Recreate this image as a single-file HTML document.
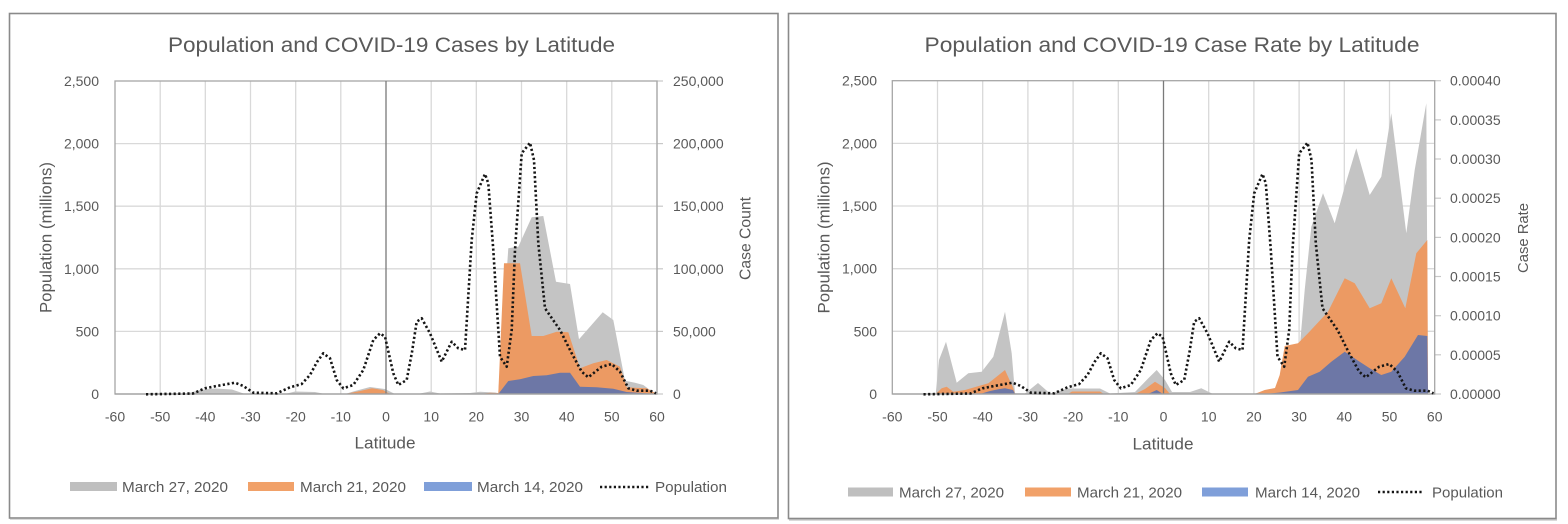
<!DOCTYPE html>
<html>
<head>
<meta charset="utf-8">
<style>
html,body{margin:0;padding:0;background:#fff;}
svg{display:block;}
text{font-family:"Liberation Sans",sans-serif;fill:#595959;}
</style>
</head>
<body>
<svg width="1568" height="524" viewBox="0 0 1568 524" xmlns="http://www.w3.org/2000/svg">
<rect width="1568" height="524" fill="#fff"/>

<!-- ============ LEFT CHART ============ -->
<rect x="9.5" y="13.5" width="768.5" height="504.5" fill="#fff" stroke="#8a8a8a" stroke-width="1.6"/>
<line x1="10" y1="519" x2="779" y2="519" stroke="#b5b5b5" stroke-width="1"/>

<text x="391.5" y="52" font-size="21" text-anchor="middle" textLength="447" lengthAdjust="spacingAndGlyphs">Population and COVID-19 Cases by Latitude</text>

<!-- gridlines -->
<g stroke="#d9d9d9" stroke-width="1.3">
  <line x1="115" y1="143.6" x2="657" y2="143.6"/>
  <line x1="115" y1="206.2" x2="657" y2="206.2"/>
  <line x1="115" y1="268.8" x2="657" y2="268.8"/>
  <line x1="115" y1="331.4" x2="657" y2="331.4"/>
  <line x1="160.2" y1="81" x2="160.2" y2="394"/>
  <line x1="205.3" y1="81" x2="205.3" y2="394"/>
  <line x1="250.5" y1="81" x2="250.5" y2="394"/>
  <line x1="295.7" y1="81" x2="295.7" y2="394"/>
  <line x1="340.8" y1="81" x2="340.8" y2="394"/>
  <line x1="431.2" y1="81" x2="431.2" y2="394"/>
  <line x1="476.3" y1="81" x2="476.3" y2="394"/>
  <line x1="521.5" y1="81" x2="521.5" y2="394"/>
  <line x1="566.7" y1="81" x2="566.7" y2="394"/>
  <line x1="611.8" y1="81" x2="611.8" y2="394"/>
  <line x1="657" y1="81" x2="657" y2="394"/>
</g>
<!-- right axis ticks -->
<g stroke="#c8c8c8" stroke-width="1.2">
  <line x1="657" y1="81" x2="663" y2="81"/>
  <line x1="657" y1="143.6" x2="663" y2="143.6"/>
  <line x1="657" y1="206.2" x2="663" y2="206.2"/>
  <line x1="657" y1="268.8" x2="663" y2="268.8"/>
  <line x1="657" y1="331.4" x2="663" y2="331.4"/>
  <line x1="657" y1="394" x2="663" y2="394"/>
</g>

<!-- areas -->
<polygon fill="#c4c4c4" points="115,394 185,394 200,390 215,388.5 232,389.5 245,394 285,394 295,391.5 315,392 325,394 345,394 355,391 370,387 385,389 395,394 420,393.5 430,391.5 440,393.5 470,393 480,391.8 495,392.5 498.3,393.3 508.3,248.3 518.3,246.7 531.7,217.3 543.3,216 556,281.7 570,284 579,339.3 602.7,312.3 613.3,320 625,380.7 635,382.7 643.3,385 650,390 656.7,394"/>
<polygon fill="#ec9a63" points="345,394 360,391 372,388.3 383,390 390,394 480,394 490,392.8 498.3,393 504,263.3 520,263.3 531.7,336 543.3,336 556.7,331.7 568.3,332.3 580,368.3 593.3,363.3 606.7,360 620,366.7 626.7,387.3 646.7,388.3 656.7,394"/>
<polygon fill="#6d77a6" points="498.3,394 508.3,381 520,379.3 533.3,376 546.7,375.3 560,372.7 570,372.7 580,386.7 596.7,387.3 613.3,388.7 626.7,392 656.7,394"/>

<!-- plot border & axes -->
<rect x="115" y="81" width="542" height="313" fill="none" stroke="#a6a6a6" stroke-width="1.3"/>
<line x1="386" y1="81" x2="386" y2="394" stroke="#7a7a7a" stroke-width="1.3"/>
<line x1="115" y1="394" x2="657" y2="394" stroke="#a0a0a0" stroke-width="1.3"/>

<!-- population line -->
<polyline fill="none" stroke="#151515" stroke-width="2.6" stroke-dasharray="2.2 2.4" stroke-linejoin="round" points="146,394.3 193,393.5 205,388.3 216.7,386 235,382.7 243.3,386 253.3,392.7 276.7,393.3 290,387.3 301.7,384 310,375 317,362 323.3,353.3 330,358.3 336.7,380 343.3,388.3 353.3,385 363.3,370 373.3,340 380,333.3 385,336.7 393.3,373.3 398.3,385 406.7,380 412,352 416.7,321.7 421.7,318.3 430,333.3 441.7,361.7 451.7,341.7 458.3,348.3 465,350 471.7,240 476.7,193.3 485,174 488.3,183.3 493.3,250 500,356.7 506.7,366.7 511.7,330 515,250 521.7,153.3 530,142.7 534,160 538.3,243.3 545,308.3 560,330 571.7,353.3 581.7,371.7 588.3,377.3 601.7,366.7 611.7,364 620,371.7 628.3,388.3 636.7,390.7 650,390.7 656,393.3"/>

<!-- left axis labels -->
<g font-size="14" text-anchor="end">
  <text x="99" y="86">2,500</text>
  <text x="99" y="148.6">2,000</text>
  <text x="99" y="211.2">1,500</text>
  <text x="99" y="273.8">1,000</text>
  <text x="99" y="336.4">500</text>
  <text x="99" y="399">0</text>
</g>
<g font-size="14" text-anchor="start">
  <text x="673" y="86">250,000</text>
  <text x="673" y="148.6">200,000</text>
  <text x="673" y="211.2">150,000</text>
  <text x="673" y="273.8">100,000</text>
  <text x="673" y="336.4">50,000</text>
  <text x="673" y="399">0</text>
</g>
<g font-size="14" text-anchor="middle">
  <text x="115" y="421.7">-60</text>
  <text x="160.2" y="421.7">-50</text>
  <text x="205.3" y="421.7">-40</text>
  <text x="250.5" y="421.7">-30</text>
  <text x="295.7" y="421.7">-20</text>
  <text x="340.8" y="421.7">-10</text>
  <text x="386" y="421.7">0</text>
  <text x="431.2" y="421.7">10</text>
  <text x="476.3" y="421.7">20</text>
  <text x="521.5" y="421.7">30</text>
  <text x="566.7" y="421.7">40</text>
  <text x="611.8" y="421.7">50</text>
  <text x="657" y="421.7">60</text>
</g>
<text x="385" y="448.5" font-size="16.5" text-anchor="middle" textLength="61" lengthAdjust="spacingAndGlyphs">Latitude</text>
<text transform="translate(51.5,237.5) rotate(-90)" font-size="16.5" text-anchor="middle" textLength="151" lengthAdjust="spacingAndGlyphs">Population (millions)</text>
<text transform="translate(750.5,238.5) rotate(-90)" font-size="15.5" text-anchor="middle" textLength="83" lengthAdjust="spacingAndGlyphs">Case Count</text>

<!-- left legend -->
<rect x="70" y="482" width="47" height="9" fill="#bfbfbf"/>
<text x="122" y="492" font-size="15" textLength="106" lengthAdjust="spacingAndGlyphs">March 27, 2020</text>
<rect x="248" y="482" width="46" height="9" fill="#f1a169"/>
<text x="300" y="492" font-size="15" textLength="106" lengthAdjust="spacingAndGlyphs">March 21, 2020</text>
<rect x="424" y="482" width="48" height="9" fill="#7f9fd9"/>
<text x="477" y="492" font-size="15" textLength="106" lengthAdjust="spacingAndGlyphs">March 14, 2020</text>
<line x1="600" y1="487" x2="649" y2="487" stroke="#151515" stroke-width="2.4" stroke-dasharray="2.2 2.4"/>
<text x="655" y="492" font-size="15" textLength="72" lengthAdjust="spacingAndGlyphs">Population</text>

<!-- ============ RIGHT CHART ============ -->
<rect x="788.5" y="13.5" width="767.5" height="505" fill="#fff" stroke="#8a8a8a" stroke-width="1.6"/>
<line x1="789" y1="520" x2="1557" y2="520" stroke="#b5b5b5" stroke-width="1"/>

<text x="1172" y="52" font-size="21" text-anchor="middle" textLength="495" lengthAdjust="spacingAndGlyphs">Population and COVID-19 Case Rate by Latitude</text>

<g stroke="#d9d9d9" stroke-width="1.3">
  <line x1="892.3" y1="143.4" x2="1434.7" y2="143.4"/>
  <line x1="892.3" y1="206" x2="1434.7" y2="206"/>
  <line x1="892.3" y1="268.7" x2="1434.7" y2="268.7"/>
  <line x1="892.3" y1="331.3" x2="1434.7" y2="331.3"/>
  <line x1="937.5" y1="80.7" x2="937.5" y2="394"/>
  <line x1="982.7" y1="80.7" x2="982.7" y2="394"/>
  <line x1="1027.9" y1="80.7" x2="1027.9" y2="394"/>
  <line x1="1073.1" y1="80.7" x2="1073.1" y2="394"/>
  <line x1="1118.3" y1="80.7" x2="1118.3" y2="394"/>
  <line x1="1208.7" y1="80.7" x2="1208.7" y2="394"/>
  <line x1="1253.9" y1="80.7" x2="1253.9" y2="394"/>
  <line x1="1299.1" y1="80.7" x2="1299.1" y2="394"/>
  <line x1="1344.3" y1="80.7" x2="1344.3" y2="394"/>
  <line x1="1389.5" y1="80.7" x2="1389.5" y2="394"/>
</g>
<g stroke="#c8c8c8" stroke-width="1.2">
  <line x1="1434.7" y1="80.7" x2="1441" y2="80.7"/>
  <line x1="1434.7" y1="119.9" x2="1441" y2="119.9"/>
  <line x1="1434.7" y1="159" x2="1441" y2="159"/>
  <line x1="1434.7" y1="198.2" x2="1441" y2="198.2"/>
  <line x1="1434.7" y1="237.4" x2="1441" y2="237.4"/>
  <line x1="1434.7" y1="276.5" x2="1441" y2="276.5"/>
  <line x1="1434.7" y1="315.7" x2="1441" y2="315.7"/>
  <line x1="1434.7" y1="354.8" x2="1441" y2="354.8"/>
  <line x1="1434.7" y1="394" x2="1441" y2="394"/>
</g>

<polygon fill="#c4c4c4" points="892.3,394 935.7,394 939,360 946,341.7 956.7,382.7 968.3,373.3 981.7,371.7 993.3,356.7 1005,311.7 1011.7,353.3 1015,393.3 1025,393.5 1038,383 1050,393.5 1068,388.5 1100,388.5 1110,393.5 1135,392 1148.3,378.3 1156.7,370 1165,380 1172,392 1190,392 1201.3,388.3 1212,393.5 1255,393.5 1270,390 1278,388.3 1290,350 1296.3,346 1299.7,348.3 1304.7,290 1311.3,226.7 1323,193.3 1334.7,223.3 1344.7,186.7 1356.3,148.3 1369.7,195 1381.3,176.7 1391.3,113.3 1406.3,233.3 1414.7,170 1426.3,103.3 1428,394"/>
<polygon fill="#ec9a63" points="935.7,394 941.7,388.3 946.7,386.7 953.3,391.7 965,390 988.3,383.3 1005,370 1013.3,388.3 1015,394 1068,394 1072,391.5 1100,391.5 1104,394 1135,394 1145,389 1155,381.7 1165,388 1170,394 1254.7,394 1264.7,390 1275,388 1279.7,375 1284.7,346 1298,343.3 1308,333.3 1328,311.7 1344.7,278.3 1354.7,283.3 1369.7,308.3 1381.3,303.3 1391.3,278.3 1405.3,308.3 1416.3,253.3 1427.3,240 1428,394"/>
<polygon fill="#6d77a6" points="980,394 990,391 998.3,389.3 1005,388.3 1013,390 1015,394 1148,394 1156.7,390 1163,394 1265,394 1280,392.5 1298,390 1308,376.7 1319.7,371.7 1331.3,361.7 1344.7,351.7 1359.7,361.7 1369.7,368.3 1381.3,375 1391.3,371.7 1404.7,356.7 1418,335 1427.3,336 1428,394"/>

<rect x="892.3" y="80.7" width="542.4" height="313.3" fill="none" stroke="#a6a6a6" stroke-width="1.3"/>
<line x1="1163.5" y1="80.7" x2="1163.5" y2="394" stroke="#7a7a7a" stroke-width="1.3"/>
<line x1="892.3" y1="394" x2="1434.7" y2="394" stroke="#a0a0a0" stroke-width="1.3"/>

<g transform="translate(777.5,0)">
<polyline fill="none" stroke="#151515" stroke-width="2.6" stroke-dasharray="2.2 2.4" stroke-linejoin="round" points="146,394.3 193,393.5 205,388.3 216.7,386 235,382.7 243.3,386 253.3,392.7 276.7,393.3 290,387.3 301.7,384 310,375 317,362 323.3,353.3 330,358.3 336.7,380 343.3,388.3 353.3,385 363.3,370 373.3,340 380,333.3 385,336.7 393.3,373.3 398.3,385 406.7,380 412,352 416.7,321.7 421.7,318.3 430,333.3 441.7,361.7 451.7,341.7 458.3,348.3 465,350 471.7,240 476.7,193.3 485,174 488.3,183.3 493.3,250 500,356.7 506.7,366.7 511.7,330 515,250 521.7,153.3 530,142.7 534,160 538.3,243.3 545,308.3 560,330 571.7,353.3 581.7,371.7 588.3,377.3 601.7,366.7 611.7,364 620,371.7 628.3,388.3 636.7,390.7 650,390.7 656,393.3"/>
</g>

<g font-size="14" text-anchor="end">
  <text x="877" y="85.7">2,500</text>
  <text x="877" y="148.4">2,000</text>
  <text x="877" y="211">1,500</text>
  <text x="877" y="273.7">1,000</text>
  <text x="877" y="336.3">500</text>
  <text x="877" y="399">0</text>
</g>
<g font-size="14" text-anchor="start">
  <text x="1450" y="85.7">0.00040</text>
  <text x="1450" y="124.9">0.00035</text>
  <text x="1450" y="164">0.00030</text>
  <text x="1450" y="203.2">0.00025</text>
  <text x="1450" y="242.4">0.00020</text>
  <text x="1450" y="281.5">0.00015</text>
  <text x="1450" y="320.7">0.00010</text>
  <text x="1450" y="359.8">0.00005</text>
  <text x="1450" y="399">0.00000</text>
</g>
<g font-size="14" text-anchor="middle">
  <text x="892.3" y="421.7">-60</text>
  <text x="937.5" y="421.7">-50</text>
  <text x="982.7" y="421.7">-40</text>
  <text x="1027.9" y="421.7">-30</text>
  <text x="1073.1" y="421.7">-20</text>
  <text x="1118.3" y="421.7">-10</text>
  <text x="1163.5" y="421.7">0</text>
  <text x="1208.7" y="421.7">10</text>
  <text x="1253.9" y="421.7">20</text>
  <text x="1299.1" y="421.7">30</text>
  <text x="1344.3" y="421.7">40</text>
  <text x="1389.5" y="421.7">50</text>
  <text x="1434.7" y="421.7">60</text>
</g>
<text x="1163" y="449.5" font-size="16.5" text-anchor="middle" textLength="61" lengthAdjust="spacingAndGlyphs">Latitude</text>
<text transform="translate(829.5,237.5) rotate(-90)" font-size="16.5" text-anchor="middle" textLength="152" lengthAdjust="spacingAndGlyphs">Population (millions)</text>
<text transform="translate(1528,238) rotate(-90)" font-size="15" text-anchor="middle" textLength="70" lengthAdjust="spacingAndGlyphs">Case Rate</text>

<!-- right legend -->
<rect x="848" y="487.5" width="45" height="9" fill="#bfbfbf"/>
<text x="899" y="497.5" font-size="15" textLength="105" lengthAdjust="spacingAndGlyphs">March 27, 2020</text>
<rect x="1025" y="487.5" width="46" height="9" fill="#f1a169"/>
<text x="1077" y="497.5" font-size="15" textLength="105" lengthAdjust="spacingAndGlyphs">March 21, 2020</text>
<rect x="1202" y="487.5" width="46" height="9" fill="#7f9fd9"/>
<text x="1255" y="497.5" font-size="15" textLength="105" lengthAdjust="spacingAndGlyphs">March 14, 2020</text>
<line x1="1378" y1="492" x2="1423" y2="492" stroke="#151515" stroke-width="2.4" stroke-dasharray="2.2 2.4"/>
<text x="1432" y="497.5" font-size="15" textLength="71" lengthAdjust="spacingAndGlyphs">Population</text>

</svg>
</body>
</html>
